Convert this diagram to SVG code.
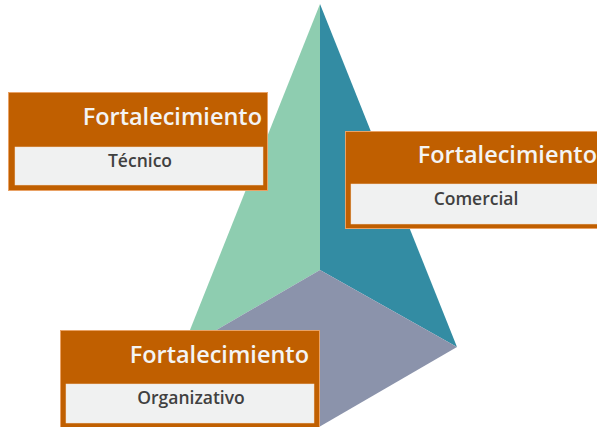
<svg xmlns="http://www.w3.org/2000/svg" width="597" height="427" viewBox="0 0 597 427">
<style>
.box{fill:#C05F00;stroke:#E9A266;stroke-width:1}
.inner{fill:#F0F1F1;stroke:#F7E2CF;stroke-width:0.5}
.title{font-family:"Open Sans","DejaVu Sans",sans-serif;font-weight:600;font-size:23.5px;fill:#F4F4F4;text-anchor:end}
.sub{font-family:"Open Sans","DejaVu Sans",sans-serif;font-weight:600;font-size:17.5px;fill:#404040;text-anchor:middle}
</style>
<g id="pyramid">
<polygon points="320,4 320,270 182,350" fill="#8ECDB0"/>
<polygon points="320,4 457,347 320,270" fill="#338CA3"/>
<polygon points="320,270 457,347 319,427 182,350" fill="#8B93AB"/>
</g>
<g id="tecnico">
<rect class="box" x="8.5" y="92.5" width="259" height="98"/>
<rect class="inner" x="15" y="147" width="248" height="38"/>
<text class="title" x="262" y="125">Fortalecimiento</text>
<text class="sub" x="140" y="167">Técnico</text>
</g>
<g id="comercial">
<rect class="box" x="345.5" y="131.5" width="260" height="97"/>
<rect class="inner" x="351" y="184" width="250" height="40"/>
<text class="title" x="597" y="163">Fortalecimiento</text>
<text class="sub" x="476" y="205">Comercial</text>
</g>
<g id="organizativo">
<rect class="box" x="60.5" y="330.5" width="259" height="100"/>
<rect class="inner" x="66" y="384" width="248" height="39"/>
<text class="title" x="309" y="363">Fortalecimiento</text>
<text class="sub" x="191" y="404">Organizativo</text>
</g>
</svg>
